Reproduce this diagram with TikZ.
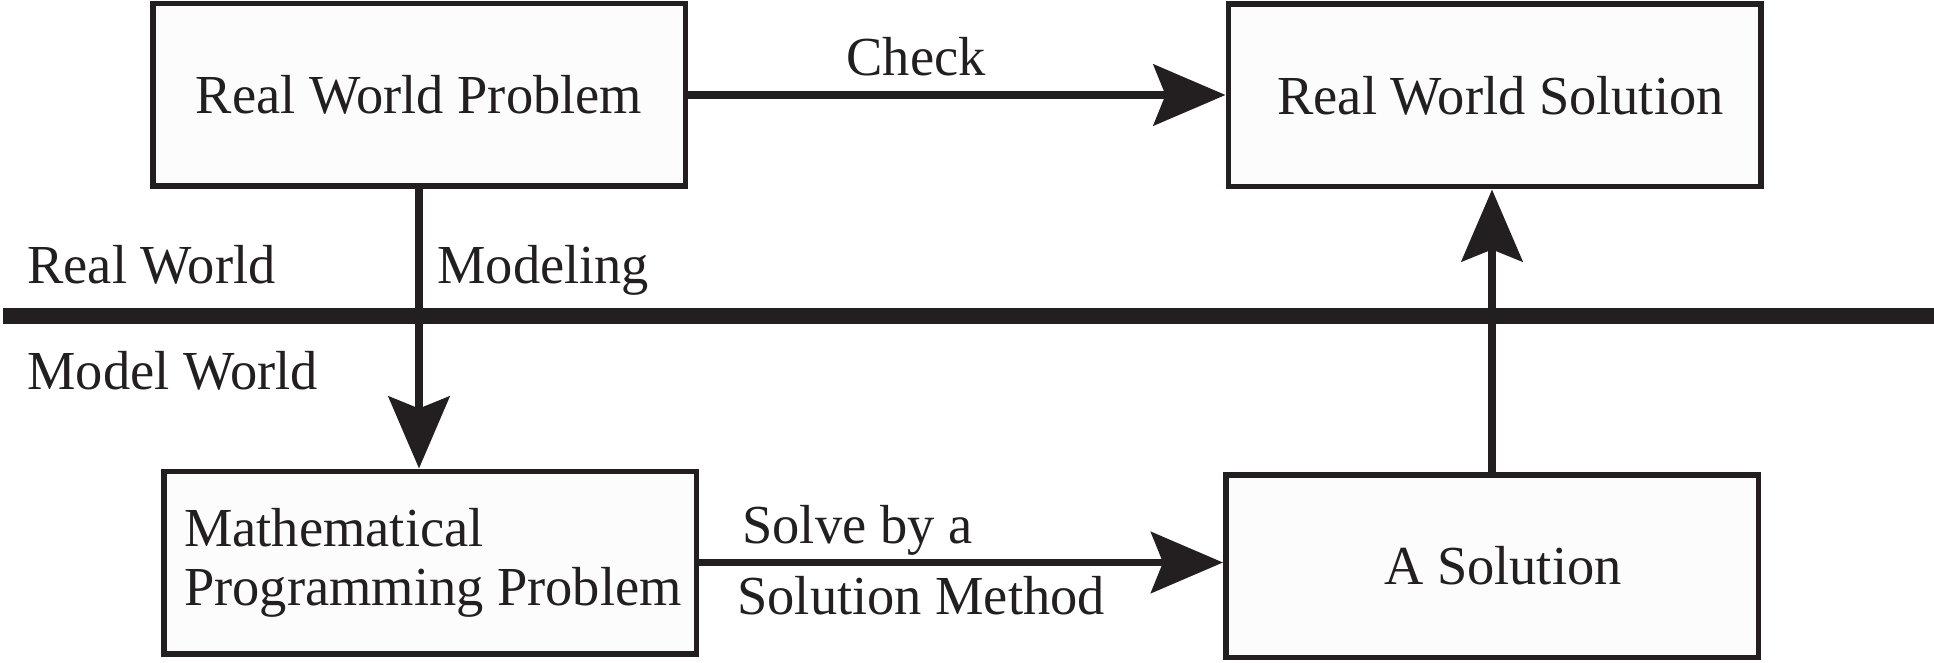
\documentclass[tikz,border=0pt]{standalone}
\usepackage{fontspec}
\setmainfont{Liberation Serif}[FakeStretch=0.99]
\usepackage{tikz}
\usetikzlibrary{arrows.meta}
\definecolor{ink}{HTML}{231F20}
\definecolor{boxfill}{HTML}{FCFCFC}
\tikzstyle{worldbox}=[draw=ink, fill=boxfill, text=ink, line width=2.75pt, minimum width=266.25pt, minimum height=91.25pt, inner sep=0pt]
\tikzstyle{flowarrow}=[draw=ink, fill=ink, line width=3.75pt, -{Stealth[length=36pt,width=30.5pt,inset=6pt]}]
\tikzstyle{tag}=[text=ink, inner sep=0pt, anchor=base west]

\begin{document}
\begin{tikzpicture}[x=0.5pt, y=-0.5pt, font=\fontsize{27.5pt}{29.5pt}\selectfont]
	\useasboundingbox (0,0) rectangle (1934,663);
	% the four boxes
	\node[worldbox] (rwp) at (419,95) {Real World Problem};
	\node[worldbox] (rws) at (1494.5,95.5) {\hspace*{6pt}Real World Solution};
	\node[worldbox, align=left] (mpp) at (430,562.5) {\hspace*{3pt}Mathematical\\\hspace*{3pt}Programming Problem};
	\node[worldbox] (sol) at (1492,566) {\hspace*{11pt}A Solution};
	% border between the two worlds
	\coordinate (divL) at (3,316);
	\coordinate (divR) at (1934,316);
	\draw[ink, line width=7.6pt] (divL) -- (divR);
	\draw[flowarrow] (rwp.east) -- (rwp.east -| rws.west);
	\draw[flowarrow] (rwp.south) -- (rwp.south |- mpp.north);
	\draw[flowarrow] (mpp.east) -- (mpp.east -| sol.west);
	\draw[flowarrow] (sol.north) -- (sol.north |- rws.south);
	% texts
	\node[tag, anchor=base] (check) at (916,76) {Check};
	\node[tag] (realw) at (27,284) {Real World};
	\node[tag] (model) at (437,284) {Modeling};
	\node[tag] (modelw) at (27,390) {Model World};
	\node[tag] (solve) at (742,543) {Solve by a};
	\node[tag] (method) at (737,614) {Solution Method};
\end{tikzpicture}
\end{document}
